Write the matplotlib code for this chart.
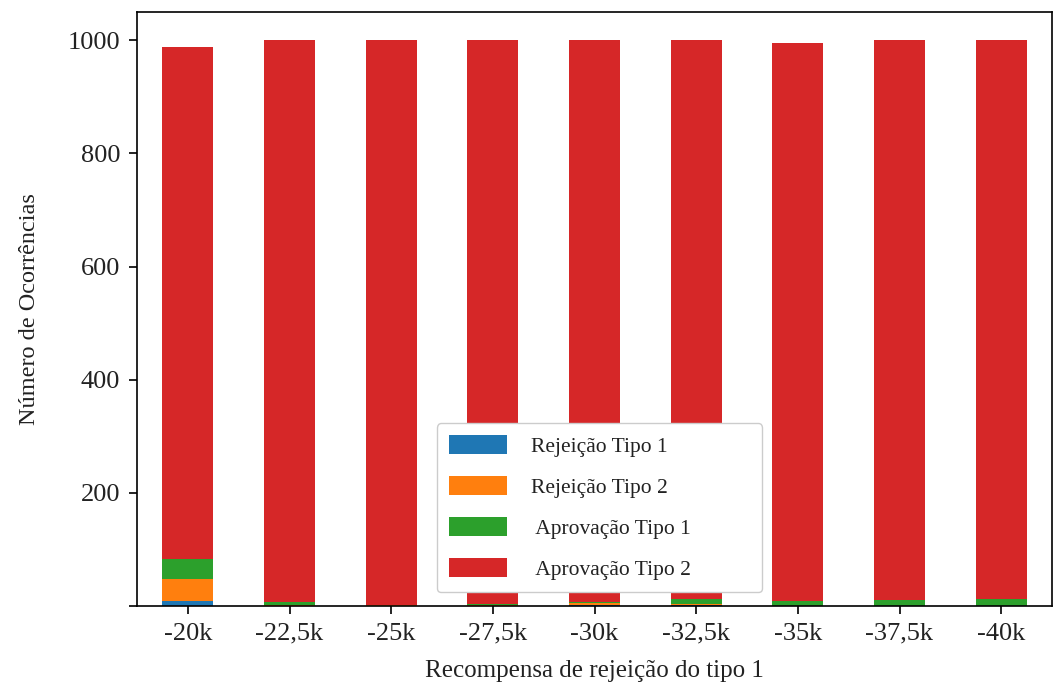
import matplotlib
matplotlib.use("Agg")
import matplotlib.pyplot as plt
import numpy as np

categories = ["-20k", "-22,5k", "-25k", "-27,5k", "-30k", "-32,5k", "-35k", "-37,5k", "-40k"]
rejeicao_t1 = [8, 0, 0, 0, 1, 1, 0, 0, 0]
rejeicao_t2 = [39, 1, 1, 1, 4, 2, 0, 0, 0]
aprovacao_t1 = [36, 6, 0, 2, 2, 9, 8, 10, 13]
aprovacao_t2 = [906, 993, 999, 997, 993, 988, 988, 990, 987]
labels = ["Rejeição Tipo 1", "Rejeição Tipo 2", " Aprovação Tipo 1", " Aprovação Tipo 2"]
colors = ["#1f77b4", "#ff7f0e", "#2ca02c", "#d62728"]

plt.rcParams['font.family'] = ['Liberation Serif', 'DejaVu Serif']

fig = plt.figure(figsize=(10.54, 6.87), dpi=100)
ax = fig.add_axes([137/1054, 1-606/687, (1052-137)/1054, (606-12)/687])

x = np.arange(len(categories))
bottom = np.zeros(len(categories))
series = [rejeicao_t1, rejeicao_t2, aprovacao_t1, aprovacao_t2]
for vals, lab, col in zip(series, labels, colors):
    ax.bar(x, vals, width=0.5, bottom=bottom, color=col, label=lab)
    bottom += np.array(vals)

ax.set_xlim(-0.5, len(categories) - 0.5)
ax.set_ylim(0, 1050)
ax.set_xticks(x)
ax.set_xticklabels(categories, fontsize=19, color="#222222")
ax.set_yticks([0, 200, 400, 600, 800, 1000])
ax.set_yticklabels(["", "200", "400", "600", "800", "1000"], fontsize=19, color="#222222")
ax.tick_params(length=6, width=1.2, pad=6)
ax.set_xlabel("Recompensa de rejeição do tipo 1", fontsize=18, labelpad=11, color="#222222")
ax.set_ylabel("Número de Ocorrências", fontsize=17.5, labelpad=20, color="#222222")
for s in ax.spines.values():
    s.set_linewidth(1.2)

leg = ax.legend(loc="lower left", bbox_to_anchor=(437/1054, 1-592/687, 325/1054, 168/687),
                bbox_transform=fig.transFigure, borderaxespad=0, fontsize=15.5,
                mode="expand",
                handlelength=2.7, handleheight=0.95, handletextpad=1.1,
                labelspacing=0.9, borderpad=0.55, frameon=True, fancybox=True,
                framealpha=1.0)
for t in leg.get_texts():
    t.set_color("#222222")

fig.savefig("out.png", dpi=100)
